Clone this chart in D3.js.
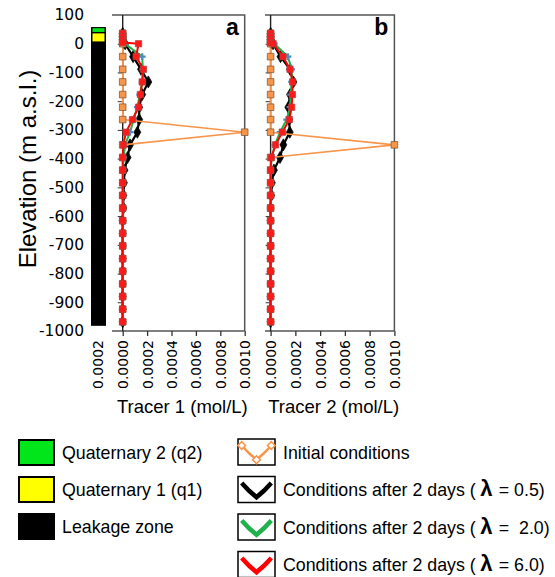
<!DOCTYPE html>
<html>
<head>
<meta charset="utf-8">
<script src="https://cdn.jsdelivr.net/npm/d3@7"></script>
<style>
  body { margin: 0; background: #fff; }
  text { font-family: "Liberation Sans", Arial, sans-serif; fill: #000; }
</style>
</head>
<body>
<svg id="chart" width="555" height="577"></svg>
<script>
// elevations of the sampling points (m a.s.l.)
const elevations = [36, 25, 14, 4, 0, -45, -89, -133, -177, -221, -264, -308, -352, -396, -440,
  -484, -528, -572, -616, -660, -704, -748, -792, -836, -880, -924, -968];

// tracer 1 (panel a), mol/L
const initialA = [0, 0, 0, 0, 0, 0, 0, 0, 0, 0, 0, 0.001, 0, 0, 0, 0, 0, 0, 0, 0, 0, 0, 0, 0, 0, 0, 0];
const blackA = [0, 0, 0, 0.00001, 0.00002, 0.000085, 0.00015, 0.00021, 0.00016, 0.000135, 0.000135,
  0.00012, 0.00006, 0.00004, 0.000015, 0.00001, 0.000005, 0.000005, 0, 0, 0, 0, 0, 0, 0, 0, 0];
const greenA = [0, 0, 0, 0.00001, 0.00002, 0.00016, 0.000165, 0.00016, 0.00014, 0.00012, 0.00009,
  0.00006, 0.00002, 0.000008, 0.000003, 0, 0, 0, 0, 0, 0, 0, 0, 0, 0, 0, 0];
const redA = [0, 0, 0, 0, 0.00013, 0.00011, 0.00017, 0.00016, 0.000145, 0.00013, 0.00008,
  0.000027, 0.000005, 0, 0, 0, 0, 0, 0, 0, 0, 0, 0, 0, 0, 0, 0];

// tracer 2 (panel b), mol/L
const initialB = [0, 0, 0, 0, 0, 0, 0, 0, 0, 0, 0, 0, 0.001, 0, 0, 0, 0, 0, 0, 0, 0, 0, 0, 0, 0, 0, 0];
const blackB = [0, 0, 0, 0.00001, 0.00002, 0.00008, 0.000157, 0.000184, 0.000157, 0.000143, 0.00015,
  0.000155, 0.000103, 0.000076, 0.000027, 0.00001, 0.000005, 0, 0, 0, 0, 0, 0, 0, 0, 0, 0];
const greenB = [0, 0, 0, 0.00001, 0.00003, 0.00014, 0.00017, 0.00017, 0.000162, 0.000157, 0.00013,
  0.000076, 0.000035, 0.00001, 0, 0, 0, 0, 0, 0, 0, 0, 0, 0, 0, 0, 0];
const redB = [0, 0, 0, 0, 0.00002, 0.0001, 0.000157, 0.000178, 0.000176, 0.00017, 0.000151,
  0.000095, 0.00004, 0.000005, 0, 0, 0, 0, 0, 0, 0, 0, 0, 0, 0, 0, 0];

const elevTicks = [100, 0, -100, -200, -300, -400, -500, -600, -700, -800, -900, -1000];
const concTicks = [0, 0.0002, 0.0004, 0.0006, 0.0008, 0.001];

// geological column (m a.s.l.)
const strataNames = ["Leakage zone", "Quaternary 1 (q1)", "Quaternary 2 (q2)"];
const strataTop = [58, 36, 54];
const strataBottom = [-982, 8, 41];
const strataColors = ["#000000", "#ffff00", "#00e61a"];

const seriesNames = ["Initial conditions", "Conditions after 2 days (", "Conditions after 2 days (", "Conditions after 2 days ("];
const lambdaText = ["", "= 0.5)", "=  2.0)", "= 6.0)"];

const svg = d3.select("#chart");
const y = d3.scaleLinear().domain([100, -1000]).range([15, 331]);

// elevation labels
svg.append("g")
  .attr("transform", "translate(90,0)")
  .call(d3.axisLeft(y).tickValues(elevTicks).tickSize(0).tickPadding(6).tickFormat(d => String(d)))
  .call(g => g.select(".domain").remove())
  .selectAll("text")
  .style("font-family", "'DejaVu Sans', sans-serif")
  .style("font-size", "15.5px")
  .attr("fill", "#000");

svg.append("text")
  .attr("transform", `translate(36,${(y(100) + y(-1000)) / 2 - 4}) rotate(-90)`)
  .attr("text-anchor", "middle")
  .style("font-size", "24px")
  .text("Elevation (m a.s.l.)");

// geological column
const strata = svg.append("g");
strataNames.forEach((n, i) => {
  const inset = i === 0 ? 0 : 1.5;
  strata.append("rect")
    .attr("x", 91 + inset)
    .attr("width", 15 - 2 * inset)
    .attr("y", y(strataTop[i]))
    .attr("height", y(strataBottom[i]) - y(strataTop[i]))
    .attr("fill", strataColors[i]);
});

const seriesStyle = [
  { color: "#f7954a", width: 1.6, symbol: d3.symbolSquare, size: 44, fill: "#f7954a", stroke: "#7a5030" },
  { color: "#000000", width: 2.2, symbol: d3.symbolDiamond, size: 42, fill: "#000", stroke: "#000" },
  { color: "#1fb24a", width: 2, symbol: d3.symbolCross, size: 26, fill: "#4a8fc0", stroke: "none" },
  { color: "#ff0000", width: 2, symbol: d3.symbolSquare, size: 40, fill: "#ff1a1a", stroke: "#b04040" }
];

function panel(x0, x1, leftEdge, series, label, title) {
  const x = d3.scaleLinear().domain([0, 0.001]).range([x0, x1]);
  const g = svg.append("g");

  // frame: top and right
  g.append("path")
    .attr("d", `M${leftEdge},${y(100)}H${x(0.001)}V${y(-1000)}`)
    .attr("fill", "none").attr("stroke", "#555").attr("stroke-width", 1.5);

  // bottom axis
  const xa = g.append("g")
    .attr("transform", `translate(0,${y(-1000)})`)
    .call(d3.axisBottom(x).tickValues(concTicks).tickSize(5).tickFormat(d3.format(".4f")));
  xa.select(".domain").attr("d", `M${leftEdge},0H${x(0.001)}`).attr("stroke", "#555").attr("stroke-width", 1.5);
  xa.selectAll(".tick line").attr("stroke", "#333").attr("stroke-width", 1.3);
  xa.selectAll("text")
    .attr("transform", "rotate(-90)")
    .attr("text-anchor", "end")
    .attr("x", -9).attr("y", 0).attr("dy", "0.36em")
    .style("font-family", "'DejaVu Sans', sans-serif")
    .style("font-size", "14px").attr("fill", "#000");

  // y axis at zero concentration
  const ya = g.append("g")
    .attr("transform", `translate(${x(0)},0)`)
    .call(d3.axisLeft(y).tickValues(elevTicks.slice(1, -1)).tickSize(5).tickFormat(""));
  ya.select(".domain").attr("d", `M0,${y(100)}V${y(-1000)}`).attr("stroke", "#222").attr("stroke-width", 1.4);
  ya.selectAll(".tick line").attr("stroke", "#333");

  const line = d3.line().x(d => x(d[0])).y(d => y(d[1]));
  const order = [1, 2, 0, 3];
  order.forEach(k => {
    const pts = series[k].map((v, i) => [v, elevations[i]]);
    const st = seriesStyle[k];
    g.append("path")
      .datum(pts)
      .attr("d", line)
      .attr("fill", "none")
      .attr("stroke", st.color)
      .attr("stroke-width", st.width)
      .attr("stroke-linejoin", "round");
    g.selectAll(null)
      .data(pts)
      .join("path")
      .attr("transform", d => `translate(${x(d[0])},${y(d[1])})`)
      .attr("d", d3.symbol(st.symbol, st.size))
      .attr("fill", st.fill)
      .attr("stroke", st.stroke)
      .attr("stroke-width", 0.7);
  });

  g.append("text")
    .attr("x", x(0.001) - 6).attr("y", 35)
    .attr("text-anchor", "end")
    .style("font-size", "23px").style("font-weight", "bold")
    .text(label);

  g.append("text")
    .attr("x", (leftEdge + x(0.001)) / 2 + 4).attr("y", 413)
    .attr("text-anchor", "middle")
    .style("font-size", "18.5px")
    .text(title);
  return x;
}

const xA = panel(122.7, 244.7, 112, [initialA, blackA, greenA, redA], "a", "Tracer 1 (mol/L)");
panel(270.6, 394.4, 265, [initialB, blackB, greenB, redB], "b", "Tracer 2 (mol/L)");

// stray label of the column's axis, sits left of panel a
svg.append("text")
  .attr("transform", `translate(${xA(-0.0002)},${y(-1000) + 9}) rotate(-90)`)
  .attr("text-anchor", "end").attr("dy", "0.36em")
  .style("font-family", "'DejaVu Sans', sans-serif").style("font-size", "14px")
  .text(d3.format(".4f")(0.0002));

// legend: geological units
const legL = svg.append("g");
[2, 1, 0].forEach((k, i) => {
  const cy = 452 + i * 37;
  legL.append("rect")
    .attr("x", 19).attr("y", cy - 12).attr("width", 35).attr("height", 25)
    .attr("fill", strataColors[k]).attr("stroke", "#000").attr("stroke-width", 2);
  legL.append("text")
    .attr("x", 62).attr("y", cy + 6.5)
    .style("font-size", "17.8px")
    .text(strataNames[k]);
});

// legend: series
const legR = svg.append("g");
const vShape = [[0.1, 0.25], [0.3, 0.55], [0.5, 0.8], [0.7, 0.55], [0.9, 0.25]];
seriesNames.forEach((n, k) => {
  const cy = 452 + k * 37.5;
  const bx = 238, by = cy - 13, bw = 37, bh = 26;
  const st = seriesStyle[k];
  legR.append("rect")
    .attr("x", bx).attr("y", by).attr("width", bw).attr("height", bh)
    .attr("fill", "#fff").attr("stroke", "#000").attr("stroke-width", 1.5);
  const pts = vShape.map(p => [bx + p[0] * bw, by + p[1] * bh]);
  legR.append("path")
    .attr("d", d3.line()(pts))
    .attr("fill", "none")
    .attr("stroke", st.color)
    .attr("stroke-width", k === 0 ? 2.5 : 4.5);
  if (k === 0) {
    legR.selectAll(null).data([pts[0], pts[2], pts[4]]).join("path")
      .attr("transform", d => `translate(${d[0]},${d[1]}) rotate(45)`)
      .attr("d", d3.symbol(d3.symbolSquare, 30))
      .attr("fill", "#fff").attr("stroke", st.color).attr("stroke-width", 1.5);
  }
  const t = legR.append("text")
    .attr("x", 283).attr("y", cy + 6.5)
    .attr("xml:space", "preserve")
    .style("font-size", "17.8px")
    .style("white-space", "pre");
  t.append("tspan").text(n);
  if (k > 0) {
    t.append("tspan").style("font-weight", "bold").style("font-size", "22px").text("\u2009λ\u2009");
    t.append("tspan").attr("dx", 2).text(lambdaText[k]);
  }
});
</script>
</body>
</html>
